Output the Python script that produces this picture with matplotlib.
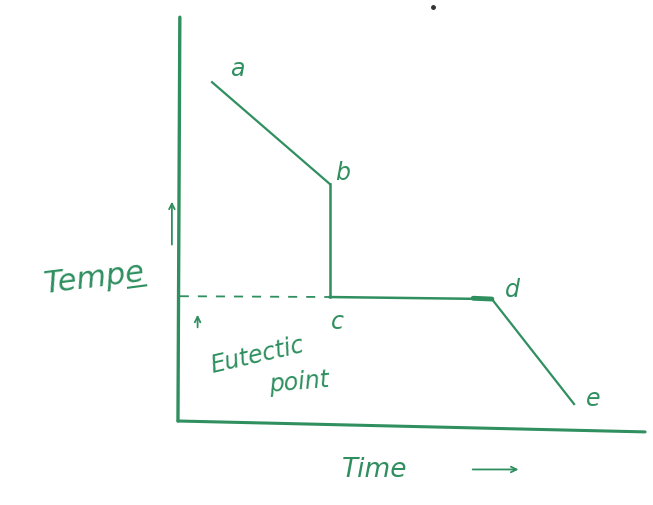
import matplotlib
matplotlib.use("Agg")
import matplotlib.pyplot as plt

# Cooling curve data (time, temperature) in arbitrary units
labels = ["a", "b", "c", "d", "e"]
time = [0.73, 3.25, 3.25, 6.72, 8.48]
temp = [8.39, 5.87, 3.07, 3.02, 0.42]
eutectic_temp = 3.05

GREEN = "#2f8f5f"

fig = plt.figure(figsize=(6.53, 5.06), dpi=100)
ax = fig.add_axes([0, 0, 1, 1])
ax.set_xlim(-3.81, 10.17)
ax.set_ylim(-2.08, 10.45)
ax.axis("off")

# Axes drawn by hand style
ax.plot([0.04, 0.0], [10.0, 0.0], color=GREEN, lw=2.4, solid_capstyle="round")
ax.plot([0.0, 10.0], [0.0, -0.27], color=GREEN, lw=2.2, solid_capstyle="round")

# Cooling curve
ax.plot(time[:2], temp[:2], color=GREEN, lw=1.6)
ax.plot(time[1:3], temp[1:3], color=GREEN, lw=1.8)
ax.plot(time[2:4], temp[2:4], color=GREEN, lw=1.8)
ax.plot(time[3:5], temp[3:5], color=GREEN, lw=1.6)
ax.plot([time[3] - 0.4, time[3]], [temp[3] + 0.02, temp[3]], color=GREEN, lw=3.5,
        solid_capstyle="round")

# Eutectic dashed line
ax.plot([0.04, time[2]], [eutectic_temp + 0.04, eutectic_temp + 0.02], color=GREEN,
        lw=1.3, ls=(0, (5, 5)))

# Point labels
offsets = [(0.55, 0.35), (0.27, 0.3), (0.17, -0.6), (0.45, 0.25), (0.4, 0.15)]
for lab, t, T, (dx, dy) in zip(labels, time, temp, offsets):
    ax.text(t + dx, T + dy, lab, color=GREEN, fontsize=17, ha="center", va="center",
            family="DejaVu Sans", style="italic")

# Temperature label and arrow
ax.text(-1.8, 3.55, "Tempe", color=GREEN, fontsize=22, ha="center", va="center",
        rotation=7, style="italic")
ax.plot([-1.07, -0.68], [3.3, 3.36], color=GREEN, lw=1.5)
ax.annotate("", xy=(-0.13, 5.5), xytext=(-0.13, 4.3),
            arrowprops=dict(arrowstyle="->", color=GREEN, lw=1.3))

# Eutectic point annotation
ax.annotate("", xy=(0.42, 2.7), xytext=(0.42, 2.25),
            arrowprops=dict(arrowstyle="->", color=GREEN, lw=1.3))
ax.text(1.7, 1.65, "Eutectic", color=GREEN, fontsize=17, ha="center", va="center",
        rotation=13, style="italic")
ax.text(2.6, 0.98, "point", color=GREEN, fontsize=17, ha="center", va="center",
        rotation=5, style="italic")

# Time label
ax.text(4.2, -1.18, "Time", color=GREEN, fontsize=19, ha="center", va="center",
        style="italic")
ax.annotate("", xy=(7.35, -1.2), xytext=(6.25, -1.2),
            arrowprops=dict(arrowstyle="->", color=GREEN, lw=1.3))

# stray pen dot at top
ax.plot([5.46], [10.25], marker="o", ms=2.5, color="#333333")

fig.savefig("out.png", dpi=100)
